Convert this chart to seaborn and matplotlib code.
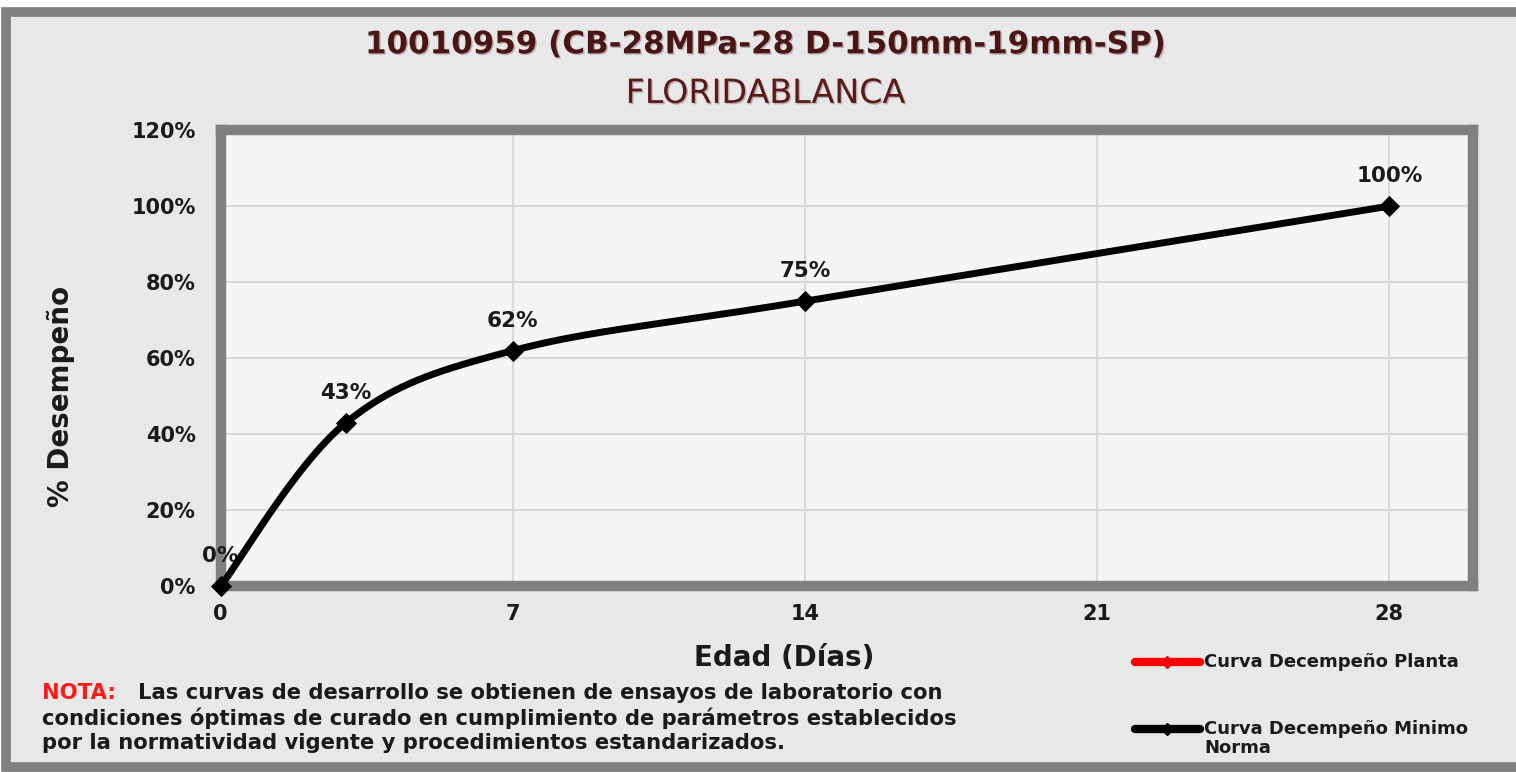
import numpy as np
import pandas as pd
import seaborn as sns
import matplotlib.pyplot as plt
from matplotlib.lines import Line2D
from matplotlib.patches import Rectangle
import matplotlib.patheffects as pe

# Datos de la curva minima de norma
edad = [0, 3, 7, 14, 28]
desempeno = [0.0, 0.43, 0.62, 0.75, 1.00]
etiquetas = ['0%', '43%', '62%', '75%', '100%']
x_ticks = [0, 7, 14, 21, 28]
y_ticks = [0, 0.2, 0.4, 0.6, 0.8, 1.0, 1.2]

titulo = '10010959 (CB-28MPa-28 D-150mm-19mm-SP)'
subtitulo = 'FLORIDABLANCA'
serie_planta = 'Curva Decempeño Planta'
serie_norma = 'Curva Decempeño Minimo\nNorma'
nota = ['Las curvas de desarrollo se obtienen de ensayos de laboratorio con',
        'condiciones óptimas de curado en cumplimiento de parámetros establecidos',
        'por la normatividad vigente y procedimientos estandarizados.']


def excel_smooth(xs, ys, sx=30.0, sy=1.2, n=40):
    # bezier suavizado tipo Excel, calculado en coordenadas normalizadas
    p = np.column_stack([np.array(xs) / sx, np.array(ys) / sy * 0.6])
    out = []
    for i in range(len(p) - 1):
        p0 = p[i - 1] if i > 0 else p[i]
        p3 = p[i + 2] if i + 2 < len(p) else p[i + 1]
        c1 = p[i] + (p[i + 1] - p0) / 6
        c2 = p[i + 1] - (p3 - p[i]) / 6
        t = np.linspace(0, 1, n)[:, None]
        seg = ((1 - t) ** 3 * p[i] + 3 * (1 - t) ** 2 * t * c1
               + 3 * (1 - t) * t ** 2 * c2 + t ** 3 * p[i + 1])
        out.append(seg)
    out = np.vstack(out)
    return out[:, 0] * sx, out[:, 1] / 0.6 * sy


sns.set_theme(style='white')
plt.rcParams['font.family'] = ['DejaVu Sans']
plt.rcParams['font.weight'] = 'bold'

fig = plt.figure(figsize=(15.16, 7.72), dpi=100)
fig.patch.set_facecolor('white')
# marco exterior gris
marco = Rectangle((0.004, 0.006), 1.1, 0.978, transform=fig.transFigure,
                  facecolor='#e8e8e8', edgecolor='#808080', linewidth=7, zorder=-10)
fig.add_artist(marco)

ax = fig.add_axes([0.1455, 0.2405, 0.826, 0.591])
ax.set_facecolor('#f5f5f5')

sx, sy = excel_smooth(edad, desempeno)
curva = pd.DataFrame({'Edad': sx, 'Desempeno': sy})
puntos = pd.DataFrame({'Edad': edad, 'Desempeno': desempeno})

sns.lineplot(data=curva, x='Edad', y='Desempeno', sort=False, estimator=None,
             color='black', linewidth=5, ax=ax, zorder=4)
sns.scatterplot(data=puntos, x='Edad', y='Desempeno', marker='D', s=100,
                color='black', edgecolor='black', ax=ax, zorder=5, clip_on=False)

for xv, yv, lab in zip(edad, desempeno, etiquetas):
    ax.annotate(lab, (xv, yv), xytext=(0, 21.5), textcoords='offset points',
                ha='center', va='center', fontsize=15.5, fontweight='bold', color='#1a1a1a')

ax.set_xlim(0, 30)
ax.set_ylim(0, 1.2)
ax.set_xticks(x_ticks)
ax.set_yticks(y_ticks)
ax.set_yticklabels([f'{int(round(v * 100))}%' for v in y_ticks])
ax.grid(True, color='#d9d9d9', linewidth=1.5)
ax.tick_params(axis='both', labelsize=15, colors='#808080', labelcolor='#1a1a1a',
               length=4, width=1, direction='out')
ax.tick_params(axis='y', pad=14)
ax.tick_params(axis='x', pad=9)
for lab in ax.get_xticklabels() + ax.get_yticklabels():
    lab.set_fontweight('bold')
for s in ax.spines.values():
    s.set_color('#808080')
    s.set_linewidth(7.5)
    s.set_visible(True)

ax.set_xlabel('Edad (Días)', fontsize=20, fontweight='bold', color='#1a1a1a')
ax.set_ylabel('% Desempeño', fontsize=20, fontweight='bold', color='#1a1a1a')
ax.xaxis.set_label_coords(0.45, -0.127)
ax.yaxis.set_label_coords(-0.116, 0.416)

sombra = [pe.withSimplePatchShadow(offset=(1, -1), shadow_rgbFace='#b0a0a0', alpha=0.8)]
fig.text(0.505, 0.942, titulo, ha='center', va='center', fontsize=22.3, fontweight='bold',
         color='#4a1515', path_effects=sombra)
fig.text(0.505, 0.879, subtitulo, ha='center', va='center', fontsize=24, fontweight='normal',
         color='#5a1a1a', path_effects=sombra)

# nota inferior
fig.text(42 / 1516, 1 - 693 / 772, 'NOTA:', ha='left', va='center', fontsize=15.2,
         fontweight='bold', color='#ff1a1a')
for i, linea in enumerate(nota):
    x0 = 138 / 1516 if i == 0 else 42 / 1516
    fig.text(x0, 1 - (693 + 25 * i) / 772, linea, ha='left', va='center', fontsize=15.2,
             fontweight='bold', color='#1a1a1a')

# leyenda
for yy, col, lab in [(1 - 662 / 772, '#ff0000', serie_planta), (1 - 729 / 772, 'black', serie_norma)]:
    fig.add_artist(Line2D([1135 / 1516, 1200 / 1516], [yy, yy], transform=fig.transFigure,
                          color=col, linewidth=6))
    fig.add_artist(Line2D([1167 / 1516], [yy], transform=fig.transFigure, color=col,
                          marker='D', markersize=6, linestyle='none'))
    if '\n' in lab:
        fig.text(1204 / 1516, yy + 0.012, lab, ha='left', va='top', fontsize=13,
                 fontweight='bold', color='#1a1a1a', linespacing=1.1)
    else:
        fig.text(1204 / 1516, yy, lab, ha='left', va='center', fontsize=13,
                 fontweight='bold', color='#1a1a1a')

fig.savefig('out.png', dpi=100)
